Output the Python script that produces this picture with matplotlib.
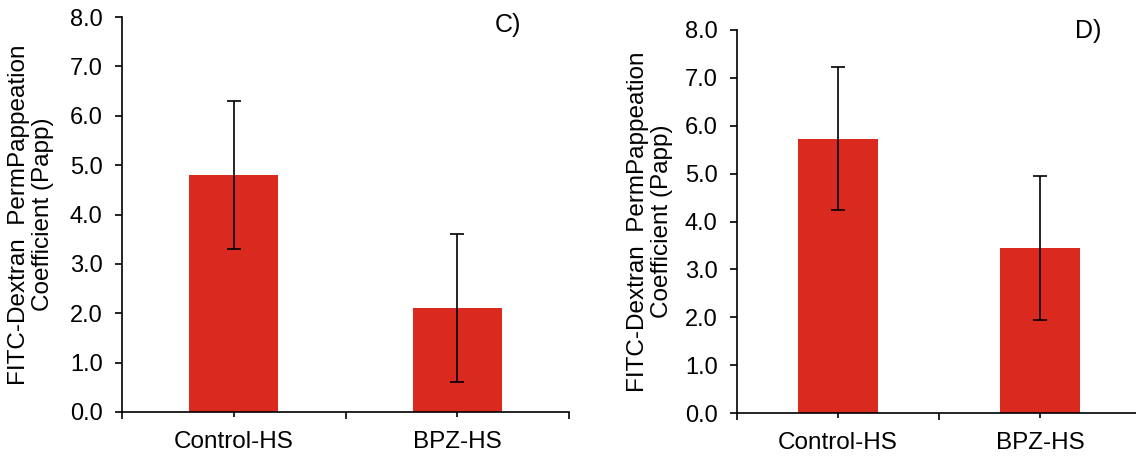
import matplotlib
matplotlib.use("Agg")
import matplotlib.pyplot as plt
from matplotlib.ticker import FormatStrFormatter, FixedLocator

categories = ["Control-HS", "BPZ-HS"]
values_c = [4.8, 2.1]
errors_c = [1.5, 1.5]
values_d = [5.73, 3.44]
errors_d = [1.5, 1.5]
yticks = [0, 1, 2, 3, 4, 5, 6, 7, 8]
ylabel = "FITC-Dextran  PermPappeation\nCoefficient (Papp)"

plt.rcParams['font.family'] = ['Liberation Sans', 'DejaVu Sans']
BAR = "#DA291E"
W, H = 1136, 457
fig = plt.figure(figsize=(W / 100, H / 100), dpi=100)

def px_axes(x0, x1, ytop, ybot):
    return fig.add_axes([x0 / W, 1 - ybot / H, (x1 - x0) / W, (ybot - ytop) / H])

def draw(ax, vals, errs, labelx):
    x = list(range(len(categories)))
    ax.bar(x, vals, width=0.4, color=BAR, zorder=2)
    ax.errorbar(x, vals, yerr=errs, fmt='none', ecolor='black', elinewidth=1.2,
                capsize=5, capthick=1.2, zorder=3)
    ax.set_xlim(-0.5, len(categories) - 0.5)
    ax.set_ylim(0, 8)
    ax.set_yticks(yticks)
    ax.yaxis.set_major_formatter(FormatStrFormatter('%.1f'))
    ax.set_xticks(x)
    ax.set_xticklabels(categories)
    ax.xaxis.set_minor_locator(FixedLocator([i - 0.5 for i in range(len(categories) + 1)]))
    for s in ['top', 'right']:
        ax.spines[s].set_visible(False)
    for s in ['left', 'bottom']:
        ax.spines[s].set_linewidth(1.2)
    ax.tick_params(axis='y', direction='out', length=5, width=1.2, labelsize=17, pad=9)
    ax.tick_params(axis='x', which='major', direction='inout', length=7, width=1.2,
                   labelsize=17.5, pad=10)
    ax.tick_params(axis='x', which='minor', direction='out', length=5, width=1.2)
    ax.set_ylabel(ylabel, fontsize=17.5, linespacing=1.12)
    ax.yaxis.set_label_coords(labelx, 0.5)

ax1 = px_axes(122, 569, 17, 412)
draw(ax1, values_c, errors_c, -0.152)
ax2 = px_axes(737, 1141, 30, 413)
draw(ax2, values_d, errors_d, -0.158)

fig.text(508 / W, 1 - 25 / H, "C)", fontsize=18, ha='center', va='center')
fig.text(1088 / W, 1 - 31 / H, "D)", fontsize=18, ha='center', va='center')

fig.savefig("out.png", dpi=100)
